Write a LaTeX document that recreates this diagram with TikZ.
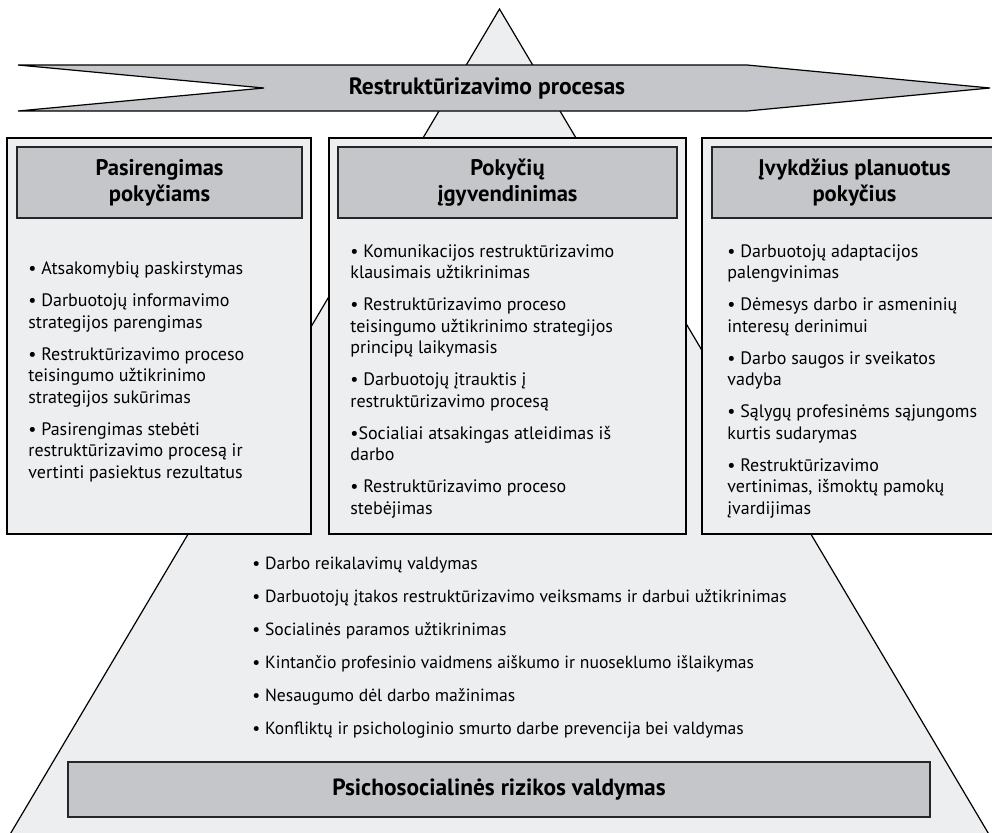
\documentclass[tikz,border=0pt]{standalone}
\usepackage{fontspec}
\setmainfont{PT Sans}
\definecolor{paper}{HTML}{EDEEF0}
\definecolor{band}{HTML}{C5C6C9}

\begin{document}
\begin{tikzpicture}[x=0.5pt,y=-0.5pt,
  panel/.style={draw,line width=0.6pt,fill=paper},
  head/.style={draw=black!85,line width=0.9pt,fill=band,align=center,font=\fontsize{11.3}{13}\selectfont\bfseries},
  items/.style={anchor=base west,align=left,inner sep=0pt,font=\fontsize{9}{10.75}\selectfont}]
\clip (0,0) rectangle (992,832);
\fill[white] (0,0) rectangle (992,832);
% pyramid and the process arrow
\draw[fill=paper,line width=0.6pt] (3.7,845) -- (499.5,9) -- (995.3,845);
\draw[fill=band,line width=0.6pt] (18,65) -- (747,65) -- (990,88) -- (747,111) -- (18,111) -- (264,88) -- cycle;
\node[font=\fontsize{11.8}{13}\selectfont\bfseries] (proc) at (487,88) {Restruktūrizavimo procesas};
% three stages
\node[panel,minimum width=152pt,minimum height=198pt] (prep) at (159,336) {};
\node[panel,minimum width=178.5pt,minimum height=198pt] (impl) at (507.5,336) {};
\node[panel,minimum width=152pt,minimum height=198pt] (done) at (854,336) {};
\node[head,minimum width=142.5pt,minimum height=35.5pt] (prephead) at (159.5,182.5) {Pasirengimas\\pokyčiams};
\node[head,minimum width=169.5pt,minimum height=35.5pt] (implhead) at (507.5,182.5) {Pokyčių\\įgyvendinimas};
\node[head,minimum width=142.5pt,minimum height=35.5pt] (donehead) at (854.5,182.5) {Įvykdžius planuotus\\pokyčius};
% lists, placed by the baseline of their last line
\node[items] (preplist) at (28,478) {• Atsakomybių paskirstymas\\[5.25pt]
  • Darbuotojų informavimo\\strategijos parengimas\\[5.25pt]
  • Restruktūrizavimo proceso\\teisingumo užtikrinimo\\strategijos sukūrimas\\[5.25pt]
  • Pasirengimas stebėti\\restruktūrizavimo procesą ir\\vertinti pasiektus rezultatus};
\node[items] (impllist) at (350,514) {• Komunikacijos restruktūrizavimo\\klausimais užtikrinimas\\[5.25pt]
  • Restruktūrizavimo proceso\\teisingumo užtikrinimo strategijos\\principų laikymasis\\[5.25pt]
  • Darbuotojų įtrauktis į\\restruktūrizavimo procesą\\[5.25pt]
  •Socialiai atsakingas atleidimas iš\\darbo\\[5.25pt]
  • Restruktūrizavimo proceso\\stebėjimas};
\node[items] (donelist) at (727,514) {• Darbuotojų adaptacijos\\palengvinimas\\[5.25pt]
  • Dėmesys darbo ir asmeninių\\interesų derinimui\\[5.25pt]
  • Darbo saugos ir sveikatos\\vadyba\\[5.25pt]
  • Sąlygų profesinėms sąjungoms\\kurtis sudarymas\\[5.25pt]
  • Restruktūrizavimo\\vertinimas, išmoktų pamokų\\įvardijimas};
% psychosocial risk base
\node[items,font=\fontsize{8.8}{16.5}\selectfont] (risklist) at (252,734) {• Darbo reikalavimų valdymas\\
  • Darbuotojų įtakos restruktūrizavimo veiksmams ir darbui užtikrinimas\\
  • Socialinės paramos užtikrinimas\\
  • Kintančio profesinio vaidmens aiškumo ir nuoseklumo išlaikymas\\
  • Nesaugumo dėl darbo mažinimas\\
  • Konfliktų ir psichologinio smurto darbe prevencija bei valdymas};
\node[head,minimum width=431pt,minimum height=27.5pt,font=\fontsize{11.7}{13}\selectfont\bfseries] (risk) at (499,789.5) {Psichosocialinės rizikos valdymas};
\end{tikzpicture}
\end{document}
